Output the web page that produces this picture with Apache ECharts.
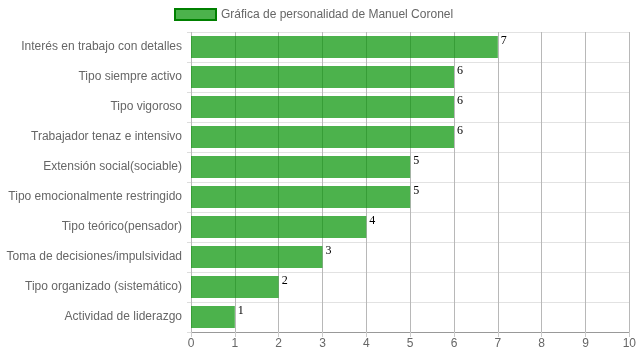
<!DOCTYPE html>
<html><head><meta charset="utf-8">
<script src="https://cdn.jsdelivr.net/npm/echarts@6/dist/echarts.min.js"></script>
<style>html,body{margin:0;padding:0;background:#fff}#c{width:639px;height:360px}</style>
</head><body><div id="c"></div>
<script>
const categories = ["Interés en trabajo con detalles","Tipo siempre activo","Tipo vigoroso","Trabajador tenaz e intensivo","Extensión social(sociable)","Tipo emocionalmente restringido","Tipo teórico(pensador)","Toma de decisiones/impulsividad","Tipo organizado (sistemático)","Actividad de liderazgo"];
const values = [7,6,6,6,5,5,4,3,2,1];
const seriesName = "Gráfica de personalidad de Manuel Coronel";
const chart = echarts.init(document.getElementById('c'));
chart.setOption({
  animation:false,
  legend:{top:3,left:169,itemWidth:41,itemHeight:11,itemGap:8,
    textStyle:{color:'#666',fontSize:12,fontFamily:'Liberation Sans, Arial'},
    data:[{name:seriesName,icon:'rect',itemStyle:{color:'rgba(0,146,0,0.7)',borderColor:'#008000',borderWidth:2}}]},
  grid:{left:191,right:9,top:32,bottom:28},
  xAxis:{type:'value',min:0,max:10,interval:1,
    axisLine:{show:true,lineStyle:{color:'#999'}},
    axisTick:{show:true,length:5,lineStyle:{color:'#ccc'}},
    axisLabel:{color:'#666',fontSize:12,fontFamily:'Liberation Sans, Arial',margin:6},
    splitLine:{show:true,lineStyle:{color:'#b8b8b8'}}},
  yAxis:{type:'category',inverse:true,data:categories,
    axisLine:{show:false},
    axisTick:{show:true,length:4,lineStyle:{color:'#ddd'}},
    axisLabel:{color:'#666',fontSize:12,fontFamily:'Liberation Sans, Arial',margin:9},
    splitLine:{show:true,lineStyle:{color:'#e2e2e2'}}},
  series:[{name:seriesName,type:'bar',data:values,barCategoryGap:'27%',
    itemStyle:{color:'rgba(0,146,0,0.7)'},
    label:{show:true,position:'right',distance:3,offset:[0,-6],color:'#000',fontSize:12,fontFamily:'Liberation Serif, Times New Roman, serif'}}]
});
</script></body></html>
